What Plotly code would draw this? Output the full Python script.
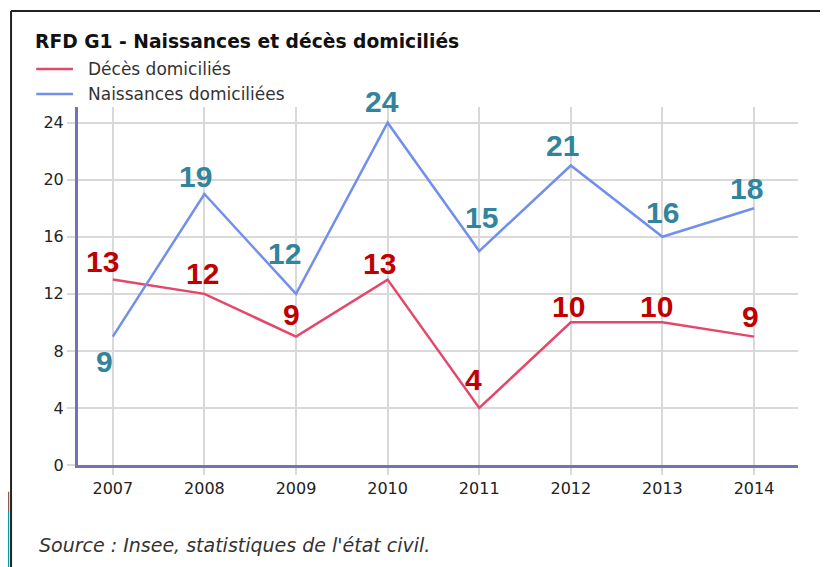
import plotly.graph_objects as go

# Données
annees = [2007, 2008, 2009, 2010, 2011, 2012, 2013, 2014]
deces = [13, 12, 9, 13, 4, 10, 10, 9]
naissances = [9, 19, 12, 24, 15, 21, 16, 18]

# décalage des étiquettes (pixels) pour éviter les lignes
decal_x_deces = [-10, -2, -5, -8, -6, -2, -6, -4]
decal_y_deces = [18, 20, 22, 16, 28, 16, 16, 20]
decal_x_naiss = [-8, -9, -12, -6, 2, -8, 0, -8]
decal_y_naiss = [-25, 18, 40, 21, 34, 20, 24, 20]

ROUGE = "#e5476b"
BLEU = "#7290ea"
ROUGE_TXT = "#c00000"
BLEU_TXT = "#31849b"
AXE = "#7272b8"
GRILLE = "#d9d9d9"

fig = go.Figure()

# Lignes
fig.add_trace(go.Scatter(x=annees, y=deces, mode="lines", name="Décès domiciliés",
                         line=dict(color=ROUGE, width=2.5)))
fig.add_trace(go.Scatter(x=annees, y=naissances, mode="lines", name="Naissances domiciliées",
                         line=dict(color=BLEU, width=2.5)))

# Étiquettes de valeurs
series = [(deces, decal_x_deces, decal_y_deces, ROUGE_TXT),
          (naissances, decal_x_naiss, decal_y_naiss, BLEU_TXT)]
for valeurs, dxs, dys, couleur in series:
    for an, v, dx, dy in zip(annees, valeurs, dxs, dys):
        fig.add_annotation(x=an, y=v, text=f"<b>{v}</b>", showarrow=False,
                           xanchor="center", yanchor="middle", xshift=dx, yshift=dy,
                           font=dict(family="Liberation Sans", size=30, color=couleur))

# la page ajoute 8 px de marge au corps : on décale les marges
fig.update_layout(
    width=828, height=567,
    margin=dict(l=70, r=38, t=99, b=110, autoexpand=False),
    paper_bgcolor="white", plot_bgcolor="white",
    font=dict(family="DejaVu Sans", size=16, color="#222222"),
    showlegend=False,
    xaxis=dict(range=[2006.62, 2014.48], tickvals=annees, showgrid=True,
               gridcolor=GRILLE, gridwidth=2, ticks="outside", ticklen=7,
               tickcolor=GRILLE, tickwidth=2, showline=True, linecolor=AXE,
               linewidth=3, zeroline=False, fixedrange=True,
               tickfont=dict(size=16, color="#222222")),
    yaxis=dict(range=[0, 25.1], tickvals=[0, 4, 8, 12, 16, 20, 24], showgrid=True,
               gridcolor=GRILLE, gridwidth=2, ticks="outside", ticklen=8,
               tickcolor=GRILLE, tickwidth=2, showline=True, linecolor=AXE,
               linewidth=3, zeroline=False, fixedrange=True,
               tickfont=dict(size=16, color="#222222")),
)

# Titre
fig.add_annotation(text="<b>RFD G1 - Naissances et décès domiciliés</b>",
                   xref="paper", yref="paper", x=-0.0625, y=1.184,
                   xanchor="left", yanchor="middle", showarrow=False,
                   font=dict(family="DejaVu Sans", size=18.7, color="#111111"))

# Légende
legende = [("Décès domiciliés", ROUGE, 1.106), ("Naissances domiciliées", BLEU, 1.036)]
for nom, couleur, yy in legende:
    fig.add_shape(type="line", xref="paper", yref="paper", x0=-0.058, x1=-0.007, y0=yy, y1=yy,
                  line=dict(color=couleur, width=2.5))
    fig.add_annotation(text=nom, xref="paper", yref="paper", x=0.011, y=yy,
                       xanchor="left", yanchor="middle", showarrow=False,
                       font=dict(family="DejaVu Sans", size=17, color="#333333"))

# Source
fig.add_annotation(text="<i>Source : Insee, statistiques de l'état civil.</i>",
                   xref="paper", yref="paper", x=-0.057, y=-0.2235,
                   xanchor="left", yanchor="middle", showarrow=False,
                   font=dict(family="DejaVu Sans", size=19, color="#333333"))

# Cadre de la capture
fig.add_shape(type="line", xref="paper", yref="paper", x0=-0.093, x1=1.06, y0=1.268, y1=1.268,
              line=dict(color="#222222", width=2))
fig.add_shape(type="line", xref="paper", yref="paper", x0=-0.093, x1=-0.093, y0=1.268, y1=-0.32,
              line=dict(color="#222222", width=2))
fig.add_shape(type="rect", xref="paper", yref="paper", x0=-0.0972, x1=-0.0955, y0=-0.075, y1=-0.131,
              line=dict(width=0), fillcolor="#8b5a4a")
fig.add_shape(type="rect", xref="paper", yref="paper", x0=-0.0972, x1=-0.0955, y0=-0.131, y1=-0.32,
              line=dict(width=0), fillcolor="#0097a7")

fig.write_html("out.html")
